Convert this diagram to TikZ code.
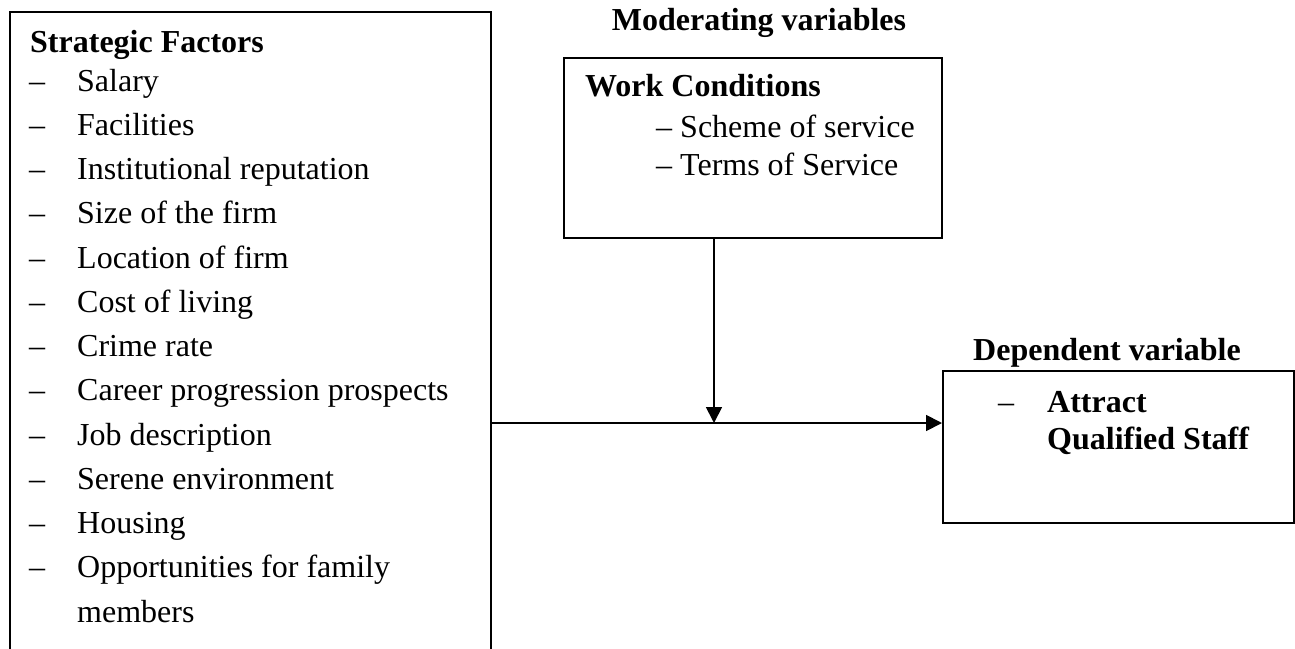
\documentclass[tikz,border=0pt]{standalone}
\usepackage{fontspec}
\setmainfont{Liberation Serif}
\usetikzlibrary{arrows.meta}
\tikzset{
  boxstyle/.style={draw, line width=1.8pt, anchor=north west, inner sep=0pt},
  txt/.style={anchor=base west, inner sep=0pt, font=\fontsize{32}{38}\selectfont},
  btxt/.style={txt, font=\fontsize{32}{38}\selectfont\bfseries},
  conn/.style={line width=1.8pt, -{Triangle[length=16pt,width=16pt]}}
}
\begin{document}
\begin{tikzpicture}[x=1pt,y=-1pt]
\useasboundingbox (0,0) rectangle (1295,648);
% boxes
\node[boxstyle, minimum width=481pt, minimum height=660pt] (sf) at (9,11) {};
\node[boxstyle, minimum width=378pt, minimum height=180pt] (wc) at (563,57) {};
\node[boxstyle, minimum width=351pt, minimum height=152pt] (dv) at (942,370) {};
% headings
\node[btxt, anchor=base] (modlab) at (759,30) {Moderating variables};
\node[btxt] (deplab) at (973,360) {Dependent variable};
% strategic factors
\node[btxt] (sft) at (30,52) {Strategic Factors};
\foreach \t [count=\i from 0] in {Salary,Facilities,Institutional reputation,Size of the firm,Location of firm,Cost of living,Crime rate,Career progression prospects,Job description,Serene environment,Housing,Opportunities for family}{
  \node[txt] (d\i) at (29,91+44.25*\i) {–};
  \node[txt] (it\i) at (77,91+44.25*\i) {\t};
}
\node[txt] (it12) at (77,622) {members};
% work conditions
\node[btxt] (wct) at (585,96) {Work Conditions};
\node[txt] (wc1) at (656,137) {– Scheme of service};
\node[txt] (wc2) at (656,175) {– Terms of Service};
% dependent
\node[txt] (dd) at (998,412) {–};
\node[btxt] (dv1) at (1047,412) {Attract};
\node[btxt] (dv2) at (1047,449) {Qualified Staff};
% connectors
\coordinate (join) at (714,423);
\draw[line width=1.8pt] (sf.east |- join) -- (join);
\draw[conn] (join) -- (join -| dv.west);
\draw[conn] (wc.south -| join) -- (join);
\end{tikzpicture}
\end{document}
